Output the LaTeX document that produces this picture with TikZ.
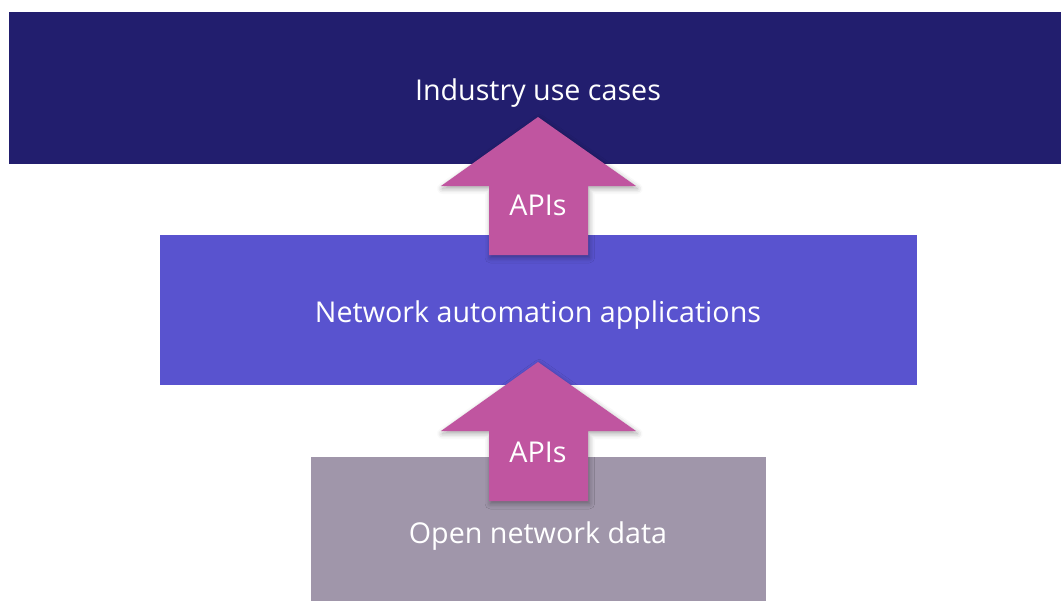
\documentclass[tikz,border=0pt]{standalone}
\usepackage{fontspec}
\setmainfont{Open Sans}
\usetikzlibrary{shadows.blur}
\definecolor{usecasecol}{RGB}{34,30,110}
\definecolor{appcol}{RGB}{89,83,207}
\definecolor{datacol}{RGB}{160,150,170}
\definecolor{apicol}{RGB}{192,85,160}

\begin{document}
\begin{tikzpicture}[x=0.75pt, y=-0.75pt,
    layer/.style={fill=#1, draw=none},
    label/.style={text=white, font=\fontsize{21.5}{25}\selectfont},
    apiarrow/.style={fill=apicol, blur shadow={shadow xshift=1pt, shadow yshift=-2pt, shadow opacity=35, shadow blur radius=4pt}}]

    \useasboundingbox (0,0) rectangle (1061,601);

    \fill[layer=usecasecol] (9,12) rectangle (1061,164);
    \fill[layer=appcol] (160,235) rectangle (917,385);
    \fill[layer=datacol] (311,457) rectangle (766,601);

    \node[label] (usecases) at (538,93) {Industry use cases};
    \node[label] (apps) at (538,315) {Network automation applications};
    \node[label] (data) at (538,536) {Open network data};

    \fill[apiarrow] (538,117) -- (636,186) -- (588,186) -- (588,255) -- (489,255) -- (489,186) -- (441,186) -- cycle;
    \node[label] (apitop) at (538,205) {APIs};

    \fill[apiarrow] (538,362) -- (636,431) -- (588,431) -- (588,501) -- (489,501) -- (489,431) -- (441,431) -- cycle;
    \node[label] (apibottom) at (538,452) {APIs};
\end{tikzpicture}
\end{document}
